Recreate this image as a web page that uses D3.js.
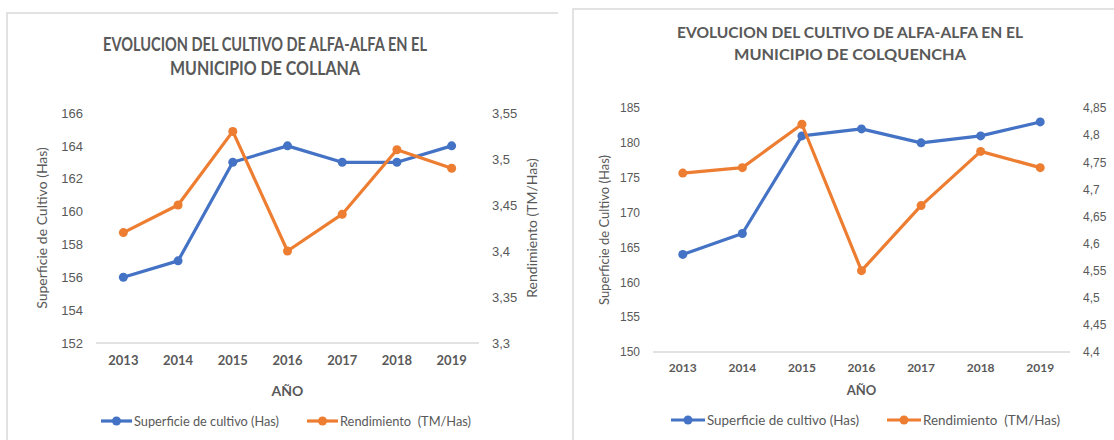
<!DOCTYPE html>
<html>
<head>
<meta charset="utf-8">
<script src="https://cdn.jsdelivr.net/npm/d3@7"></script>
<style>
  body { margin: 0; background: #fff; }
  svg { display: block; font-family: Lato, "Open Sans", sans-serif; }
  text { white-space: pre; }
</style>
</head>
<body>
<svg id="chart" width="1114" height="440"></svg>
<script>
// alfalfa: superficie vs rendimiento, two municipios
const years = ["2013", "2014", "2015", "2016", "2017", "2018", "2019"];

const collanaSuperficie = [156, 157, 163, 164, 163, 163, 164];
const collanaRendimiento = [3.42, 3.45, 3.53, 3.40, 3.44, 3.51, 3.49];
const collanaLeftTicks = [152, 154, 156, 158, 160, 162, 164, 166];
const collanaRightTicks = [3.3, 3.35, 3.4, 3.45, 3.5, 3.55];

const colqSuperficie = [164, 167, 181, 182, 180, 181, 183];
const colqRendimiento = [4.73, 4.74, 4.82, 4.55, 4.67, 4.77, 4.74];
const colqLeftTicks = [150, 155, 160, 165, 170, 175, 180, 185];
const colqRightTicks = [4.4, 4.45, 4.5, 4.55, 4.6, 4.65, 4.7, 4.75, 4.8, 4.85];

const titles = [
    ["EVOLUCION DEL CULTIVO DE ALFA-ALFA EN EL", "MUNICIPIO DE COLLANA"],
    ["EVOLUCION DEL CULTIVO DE ALFA-ALFA EN EL", "MUNICIPIO DE COLQUENCHA"]
];
const legendLabels = ["Superficie de cultivo (Has)", "Rendimiento  (TM/Has)"];

const blue = "#4472C4";
const orange = "#ED7D31";
const gray = "#595959";
const light = "#D9D9D9";

const svg = d3.select("#chart");
const fmt = v => String(+v.toFixed(2)).replace(".", ",");

function drawChart(o) {
    const g = svg.append("g");

    // panel frame: only top and left edges show
    const [fx, fy, fx2] = o.frame;
    g.append("path")
        .attr("d", `M${fx},440 V${fy} H${fx2}`)
        .attr("fill", "none").attr("stroke", light).attr("stroke-width", 1.5);

    // title
    o.title.forEach((t, i) => {
        g.append("text")
            .attr("x", o.titleX).attr("y", o.titleY + i * o.titleGap)
            .attr("text-anchor", "middle")
            .attr("font-size", o.titleSize).attr("font-weight", "bold")
            .attr("fill", gray)
            .attr("textLength", o.titleLen ? o.titleLen[i] : null)
            .attr("lengthAdjust", "spacingAndGlyphs")
            .text(t);
    });

    const x = d3.scalePoint().domain(years).range([o.x0, o.x1]).padding(0.5);
    const yL = d3.scaleLinear().domain(d3.extent(o.leftTicks)).range([o.y1, o.y0]);
    const yR = d3.scaleLinear().domain(d3.extent(o.rightTicks)).range([o.y1, o.y0]);

    // left axis
    const ax = g.append("g")
        .attr("transform", `translate(${o.x0 - 8},0)`)
        .call(d3.axisLeft(yL).tickValues(o.leftTicks).tickSize(0).tickPadding(5).tickFormat(d => d));
    ax.select(".domain").remove();
    ax.selectAll("text").attr("fill", gray).attr("font-size", o.tickSize).attr("font-family", null);

    // right axis
    const ar = g.append("g")
        .attr("transform", `translate(${o.x1 + 8},0)`)
        .call(d3.axisRight(yR).tickValues(o.rightTicks).tickSize(0).tickPadding(5).tickFormat(fmt));
    ar.select(".domain").remove();
    ar.selectAll("text").attr("fill", gray).attr("font-size", o.tickSize).attr("font-family", null);

    // bottom axis line and year labels
    g.append("line")
        .attr("x1", o.x0).attr("x2", o.x1)
        .attr("y1", o.y1).attr("y2", o.y1)
        .attr("stroke", light).attr("stroke-width", 1.5);
    g.selectAll(".yr").data(years).join("text")
        .attr("x", d => x(d)).attr("y", o.y1 + o.yearGap)
        .attr("text-anchor", "middle").attr("font-size", o.tickSize)
        .attr("font-weight", "bold").attr("fill", gray)
        .text(d => d);

    g.append("text")
        .attr("x", (o.x0 + o.x1) / 2).attr("y", o.xTitleY)
        .attr("text-anchor", "middle").attr("font-size", o.axTitleSize)
        .attr("font-weight", "bold").attr("fill", gray)
        .text("AÑO");

    // axis titles
    g.append("text")
        .attr("transform", `translate(${o.leftTitleX},${(o.y0 + o.y1) / 2}) rotate(-90)`)
        .attr("text-anchor", "middle").attr("font-size", o.axTitleSize)
        .attr("fill", gray).text("Superficie de Cultivo (Has)");
    if (o.rightTitleX) {
        g.append("text")
            .attr("transform", `translate(${o.rightTitleX},${(o.y0 + o.y1) / 2}) rotate(-90)`)
            .attr("text-anchor", "middle").attr("font-size", o.axTitleSize)
            .attr("fill", gray).text("Rendimiento (TM/Has)");
    }

    // series
    const series = [
        { vals: o.sup, y: yL, color: blue },
        { vals: o.ren, y: yR, color: orange }
    ];
    series.forEach(s => {
        const pts = years.map((yr, i) => [x(yr), s.y(s.vals[i])]);
        g.append("path")
            .attr("d", d3.line()(pts))
            .attr("fill", "none").attr("stroke", s.color)
            .attr("stroke-width", 3.2).attr("stroke-linejoin", "round");
        g.selectAll(null).data(pts).join("circle")
            .attr("cx", d => d[0]).attr("cy", d => d[1])
            .attr("r", 4.5).attr("fill", s.color);
    });

    // legend
    const lg = g.append("g");
    o.legend.forEach((lx, i) => {
        const c = i === 0 ? blue : orange;
        lg.append("line")
            .attr("x1", lx).attr("x2", lx + o.legLine)
            .attr("y1", o.legY).attr("y2", o.legY)
            .attr("stroke", c).attr("stroke-width", 3.2);
        lg.append("circle")
            .attr("cx", lx + o.legLine / 2).attr("cy", o.legY)
            .attr("r", 4.5).attr("fill", c);
        lg.append("text")
            .attr("x", lx + o.legLine + 2).attr("y", o.legY)
            .attr("dy", "0.35em").attr("font-size", o.legSize)
            .attr("fill", gray)
            .attr("textLength", o.legLen ? o.legLen[i] : null)
            .attr("lengthAdjust", "spacingAndGlyphs")
            .text(legendLabels[i]);
    });
}

drawChart({
    frame: [7, 13, 558],
    title: titles[0], titleX: 265, titleY: 51, titleGap: 24, titleSize: 18,
    titleLen: [324, 190],
    x0: 96, x1: 479, y0: 113, y1: 343,
    leftTicks: collanaLeftTicks, rightTicks: collanaRightTicks,
    sup: collanaSuperficie, ren: collanaRendimiento,
    tickSize: 13, yearGap: 22, xTitleY: 396, axTitleSize: 14,
    leftTitleX: 47, rightTitleX: 537,
    legend: [101, 307], legLine: 31, legY: 421, legSize: 13, legLen: [145, 131]
});

drawChart({
    frame: [573, 9, 1114],
    title: titles[1], titleX: 850, titleY: 38, titleGap: 22, titleSize: 16,
    titleLen: [346, 232],
    x0: 653, x1: 1070, y0: 108, y1: 352,
    leftTicks: colqLeftTicks, rightTicks: colqRightTicks,
    sup: colqSuperficie, ren: colqRendimiento,
    tickSize: 12, yearGap: 20, xTitleY: 395, axTitleSize: 13,
    leftTitleX: 609, rightTitleX: null,
    legend: [671, 887], legLine: 34, legY: 420, legSize: 13, legLen: [152, 137]
});
</script>
</body>
</html>
